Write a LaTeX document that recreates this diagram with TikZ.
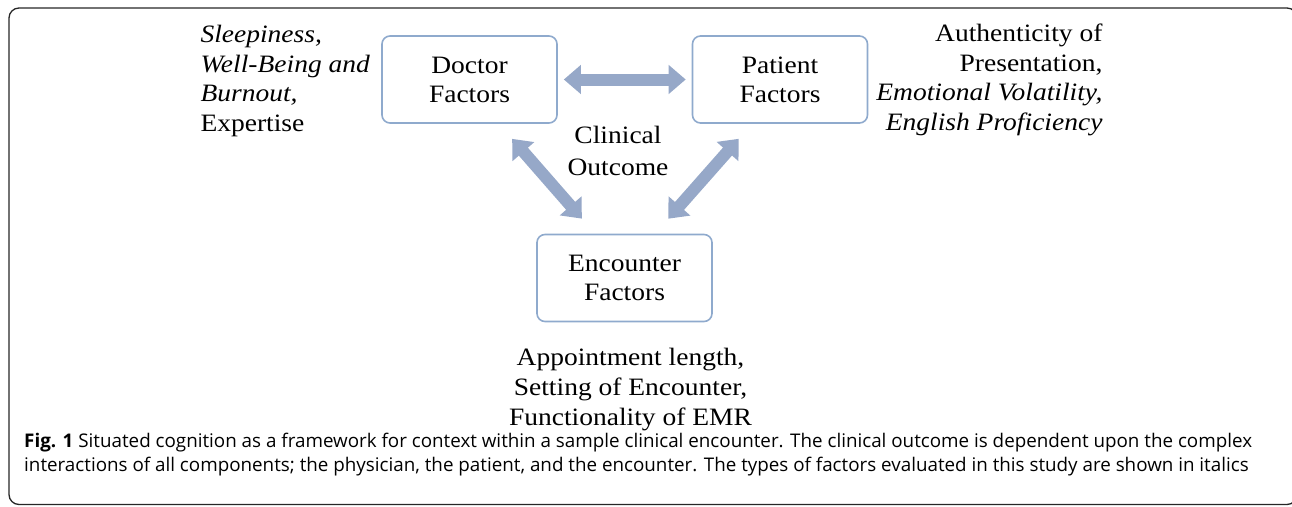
\documentclass[tikz,border=0pt]{standalone}
\usepackage{fontspec}
\setmainfont{Liberation Serif}[FakeStretch=1.1]
\newfontfamily\capfont{Open Sans}
\usetikzlibrary{arrows.meta}
\definecolor{boxline}{RGB}{143,170,205}
\definecolor{arrowfill}{RGB}{150,168,200}

\begin{document}
\begin{tikzpicture}[x=1pt, y=-1pt,
  factor/.style={draw=boxline, line width=1.6pt, rounded corners=8pt, minimum width=175pt, minimum height=87pt, align=center, font=\fontsize{25}{29}\selectfont},
  link/.style={draw=arrowfill, line width=12pt, {Triangle[width=28pt,length=17pt]}-{Triangle[width=28pt,length=17pt]}},
  note/.style={font=\fontsize{25}{29.5}\selectfont}]
\useasboundingbox (0,0) rectangle (1292,506);

% outer frame
\draw[line width=1.3pt, rounded corners=10pt, black!85] (9,8) rectangle (1297,504.5);

\node[factor] (doc) at (469.5,79.5) {Doctor\\Factors};
\node[factor] (pat) at (780,79.5) {Patient\\Factors};
\node[factor] (enc) at (624.5,278) {Encounter\\Factors};

\node[note, anchor=west, align=left] (docnote) at (197,81) {\textit{Sleepiness,}\\\textit{Well-Being and}\\\textit{Burnout,}\\Expertise};
\node[note, anchor=east, align=right] (patnote) at (1106,80) {Authenticity of\\Presentation,\\\textit{Emotional Volatility,}\\\textit{English Proficiency}};
\node[note, align=center, font=\fontsize{25}{32}\selectfont] (outcome) at (618,151) {Clinical\\Outcome};
\node[note, align=center, font=\fontsize{25}{30}\selectfont] (encnote) at (630.5,390) {Appointment length,\\Setting of Encounter,\\Functionality of EMR};

\draw[link, shorten <=6pt, shorten >=6pt] (doc) -- (pat);
\draw[link, shorten <=20pt, shorten >=20pt] ([xshift=29.5pt]doc.south) -- ([xshift=-29.5pt]enc.north);
\draw[link, shorten <=20pt, shorten >=20pt] ([xshift=-28pt]pat.south) -- ([xshift=30.5pt]enc.north);

% caption
\node[anchor=west, align=left, inner sep=0pt, font=\capfont\fontsize{18.8}{24}\selectfont] (caption) at (24,455) {\textbf{Fig. 1} Situated cognition as a framework for context within a sample clinical encounter. The clinical outcome is dependent upon the complex\\interactions of all components; the physician, the patient, and the encounter. The types of factors evaluated in this study are shown in italics};
\end{tikzpicture}
\end{document}
